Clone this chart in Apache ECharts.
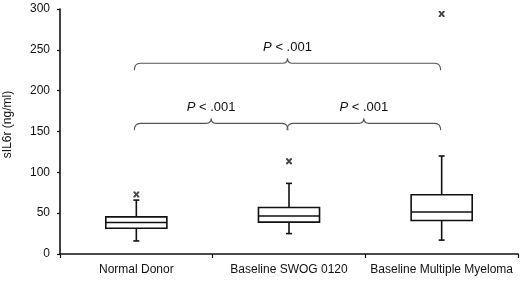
<!DOCTYPE html>
<html>
<head>
<meta charset="utf-8">
<script src="https://cdn.jsdelivr.net/npm/echarts@6/dist/echarts.min.js"></script>
<style>
html, body { margin: 0; padding: 0; background: #fff; }
#main { width: 520px; height: 282px; }
</style>
</head>
<body>
<div id="main"></div>
<script>
var myChart = echarts.init(document.getElementById('main'));

var categories = ['Normal Donor', 'Baseline SWOG 0120', 'Baseline Multiple Myeloma'];
// [min, q1, median, q3, max]
var boxStats = [
    [16, 31.5, 38.5, 45.5, 66],
    [25, 39, 46.5, 57, 86.5],
    [17, 41, 51.5, 72.5, 120]
];
var outliers = [[0, 73], [1, 113.5], [2, 294]];
// [from category, to category, level]
var braces = [
    [0, 2, 233.5],
    [0, 1, 160],
    [1, 2, 160]
];
var pLabel = '{i|P} < .001';
var yTicks = [0, 50, 100, 150, 200, 250, 300];

var boxData = boxStats.map(function (s, i) {
    return [i].concat(s);
});

function renderBox(params, api) {
    var x = api.value(0);
    var lo = api.coord([x, api.value(1)]);
    var q1 = api.coord([x, api.value(2)]);
    var md = api.coord([x, api.value(3)]);
    var q3 = api.coord([x, api.value(4)]);
    var hi = api.coord([x, api.value(5)]);
    var half = api.size([1, 0])[0] * 0.2;
    var cap = 3;
    var st = { stroke: '#111', lineWidth: 1.6, fill: 'none' };
    var cx = lo[0];
    return {
        type: 'group',
        children: [
            { type: 'rect', shape: { x: cx - half, y: q3[1], width: half * 2, height: q1[1] - q3[1] }, style: { stroke: '#111', lineWidth: 1.6, fill: '#fff' } },
            { type: 'line', shape: { x1: cx - half, y1: md[1], x2: cx + half, y2: md[1] }, style: st },
            { type: 'line', shape: { x1: cx, y1: q3[1], x2: cx, y2: hi[1] }, style: st },
            { type: 'line', shape: { x1: cx, y1: q1[1], x2: cx, y2: lo[1] }, style: st },
            { type: 'line', shape: { x1: cx - cap, y1: hi[1], x2: cx + cap, y2: hi[1] }, style: st },
            { type: 'line', shape: { x1: cx - cap, y1: lo[1], x2: cx + cap, y2: lo[1] }, style: st }
        ]
    };
}

function renderBrace(params, api) {
    var a = api.coord([api.value(0), api.value(2)]);
    var b = api.coord([api.value(1), api.value(2)]);
    var x0 = a[0] - 2, x1 = b[0] - 1, y = a[1];
    var xm = (x0 + x1) / 2;
    var d = 'M' + x0 + ',' + (y + 7)
        + ' Q' + x0 + ',' + y + ' ' + (x0 + 6) + ',' + y
        + ' L' + (xm - 5) + ',' + y
        + ' Q' + xm + ',' + y + ' ' + xm + ',' + (y - 5)
        + ' Q' + xm + ',' + y + ' ' + (xm + 5) + ',' + y
        + ' L' + (x1 - 6) + ',' + y
        + ' Q' + x1 + ',' + y + ' ' + x1 + ',' + (y + 7);
    return {
        type: 'group',
        children: [
            { type: 'path', shape: { pathData: d }, style: { stroke: '#555', lineWidth: 1.1, fill: 'none' } },
            {
                type: 'text',
                x: xm, y: y - 16,
                style: {
                    text: pLabel,
                    align: 'center', verticalAlign: 'middle',
                    fill: '#111',
                    font: '13px "Liberation Sans", Arial, sans-serif',
                    rich: { i: { fontStyle: 'italic', fontSize: 13, fontFamily: 'Liberation Sans' } }
                }
            }
        ]
    };
}

option = {
    backgroundColor: '#fff',
    animation: false,
    textStyle: { fontFamily: '"Liberation Sans", Arial, sans-serif' },
    grid: { left: 60, right: 2, top: 9, bottom: 28, outerBoundsMode: 'none', containLabel: false },
    xAxis: {
        type: 'category',
        data: categories,
        boundaryGap: true,
        axisLine: { lineStyle: { color: '#111', width: 1.6 } },
        axisTick: { show: true, length: 4, lineStyle: { color: '#111', width: 1.2 } },
        axisLabel: { color: '#111', fontSize: 12, margin: 10, interval: 0 },
        splitLine: { show: false }
    },
    yAxis: {
        type: 'value',
        min: 0,
        max: 300,
        interval: 50,
        name: 'sIL6r (ng/ml)',
        nameLocation: 'middle',
        nameGap: 46,
        nameTextStyle: { color: '#111', fontSize: 12, padding: [0, 0, 0, 14] },
        axisLine: { show: true, lineStyle: { color: '#111', width: 1.6 } },
        axisTick: { show: true, length: 3, lineStyle: { color: '#111', width: 1.2 } },
        axisLabel: { color: '#111', fontSize: 12, margin: 10 },
        splitLine: { show: false }
    },
    series: [{
        type: 'custom',
        renderItem: renderBox,
        data: boxData,
        z: 3
    }, {
        type: 'scatter',
        data: outliers,
        symbol: 'path://M0,0 L3,0 L5,3 L7,0 L10,0 L10,2 L7,5 L10,8 L10,10 L7,10 L5,7 L3,10 L0,10 L0,8 L3,5 L0,2 Z',
        symbolSize: 6,
        itemStyle: { color: '#111' },
        z: 4
    }, {
        type: 'custom',
        renderItem: renderBrace,
        data: braces,
        z: 2
    }]
};

myChart.setOption(option);
</script>
</body>
</html>
